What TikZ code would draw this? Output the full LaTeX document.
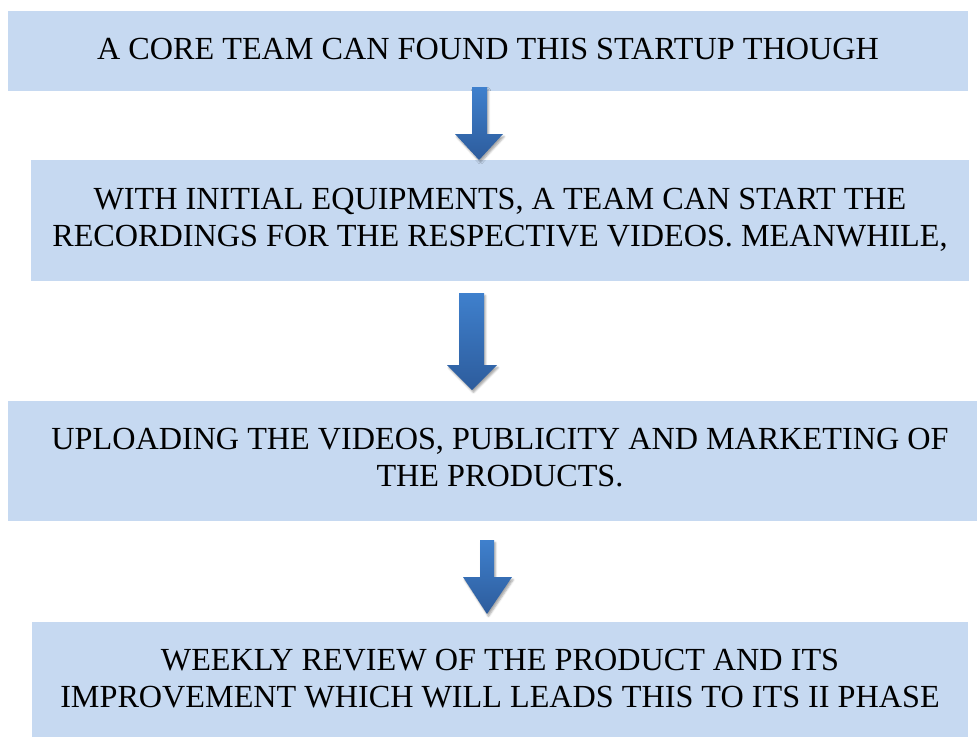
\documentclass[tikz,border=0pt]{standalone}
\usepackage{fontspec}
\setmainfont{Liberation Serif}
\usetikzlibrary{shadows.blur}
\definecolor{boxfill}{HTML}{C6D9F1}
\definecolor{arrowtop}{HTML}{3F80CD}
\definecolor{arrowbot}{HTML}{2D5C9C}
\tikzset{
  stagebox/.style={fill=boxfill, draw=none, inner sep=0pt},
  stagetext/.style={anchor=base, inner sep=0pt, font=\fontsize{32.2}{37}\selectfont},
  flowarrow/.style={top color=arrowtop, bottom color=arrowbot, draw=none,
    blur shadow={shadow xshift=1.5pt, shadow yshift=-2.5pt, shadow opacity=35, shadow blur steps=4, shadow blur extra rounding=0.5pt}},
}
\begin{document}
\begin{tikzpicture}[x=1pt, y=-1pt]
\useasboundingbox (0,0) rectangle (977,737);

% stage boxes
\node[stagebox, minimum width=960pt, minimum height=80pt] (box1) at (488,51) {};
\node[stagebox, minimum width=938pt, minimum height=121pt] (box2) at (500,220.5) {};
\node[stagebox, minimum width=969pt, minimum height=120pt] (box3) at (492.5,461) {};
\node[stagebox, minimum width=936pt, minimum height=115pt] (box4) at (500,679.5) {};

% stage texts
\node[stagetext] (t1) at (488,59) {A CORE TEAM CAN FOUND THIS STARTUP THOUGH};
\node[stagetext] (t2a) at (500,209) {WITH INITIAL EQUIPMENTS, A TEAM CAN START THE};
\node[stagetext] (t2b) at (500,246) {RECORDINGS FOR THE RESPECTIVE VIDEOS. MEANWHILE,};
\node[stagetext] (t3a) at (500,449) {UPLOADING THE VIDEOS, PUBLICITY AND MARKETING OF};
\node[stagetext] (t3b) at (500,486) {THE PRODUCTS.};
\node[stagetext] (t4a) at (500,670) {WEEKLY REVIEW OF THE PRODUCT AND ITS};
\node[stagetext] (t4b) at (500,707) {IMPROVEMENT WHICH WILL LEADS THIS TO ITS II PHASE};

% block arrows between stages
\path[flowarrow] (472,87) -- (487,87) -- (487,134) -- (503,134) -- (479,160)
  -- (455,134) -- (472,134) -- cycle;
\path[flowarrow] (459,293) -- (484,293) -- (484,365) -- (497,365) -- (472,390)
  -- (447,365) -- (459,365) -- cycle;
\path[flowarrow] (480,540) -- (494,540) -- (494,577) -- (512,577) -- (487,614)
  -- (463,577) -- (480,577) -- cycle;
\end{tikzpicture}
\end{document}
